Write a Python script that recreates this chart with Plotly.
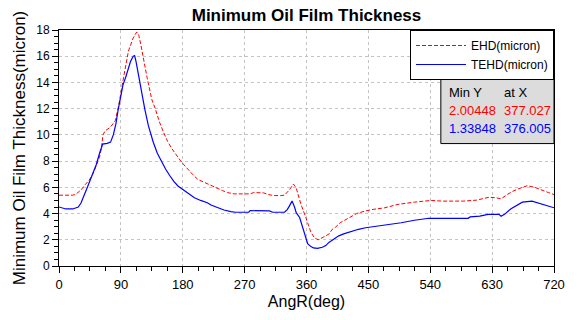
import plotly.graph_objects as go

# ---------------- data ----------------
ehd_x = [0, 10, 20, 25, 32, 38, 44, 50, 55, 59, 62, 64, 67, 75, 82, 87, 94, 101, 108, 113, 116,
         119, 128, 135, 140, 146, 152, 158, 164, 170, 176, 182, 188, 195, 202, 210, 216, 222,
         230, 238, 245, 255, 268, 278, 283, 297, 305, 312, 322, 328, 335, 341, 345, 352, 359,
         366.5, 372, 377.027, 381, 388, 393, 397.5, 402, 409, 421, 433, 445, 457, 474, 493,
         517, 541, 557, 575, 588, 607, 626, 636, 643, 652, 660, 669, 681, 692, 703, 712, 720]
ehd_y = [5.4, 5.38, 5.4, 5.5, 5.8, 6.2, 6.55, 7.1, 7.8, 8.3, 9.1, 10.0, 10.3, 10.6, 11.1, 12.3,
         14.4, 16.4, 17.4, 17.85, 17.6, 16.9, 14.4, 12.7, 12.0, 11.0, 10.2, 9.5, 8.96, 8.5,
         8.08, 7.7, 7.33, 6.95, 6.6, 6.4, 6.27, 6.1, 5.9, 5.75, 5.6, 5.5, 5.5, 5.5, 5.6, 5.58,
         5.45, 5.37, 5.37, 5.4, 5.8, 6.25, 5.95, 4.7, 3.7, 2.56, 2.12, 2.00448, 2.1, 2.3, 2.45,
         2.8, 2.95, 3.3, 3.64, 4.0, 4.19, 4.32, 4.44, 4.7, 4.87, 5.0, 4.95, 4.93, 4.95, 5.02,
         5.25, 5.2, 5.12, 5.45, 5.7, 5.9, 6.12, 6.0, 5.75, 5.6, 5.45]

tehd_x = [0, 5, 10, 20, 25, 28, 32, 37, 42, 48, 54, 59, 63.5, 70, 75, 79, 82.6, 86, 89.7, 93,
          97, 104, 108, 110, 112, 116, 120.7, 125, 130, 137, 143, 149, 155, 161, 167, 173,
          180.4, 188, 197, 206, 215.7, 221, 230, 240, 250, 256.7, 276, 278, 306, 311, 328,
          332, 335, 339, 342.6, 345, 350, 354.5, 358, 361.7, 366, 370, 376.005, 383, 388,
          392.6, 400, 407, 414, 421, 428, 435.6, 446, 457, 478.5, 497.7, 517, 538, 560, 595,
          598, 612, 624, 640, 643, 648, 657.5, 666, 674, 688, 703, 712, 720]
tehd_y = [4.5, 4.4, 4.35, 4.35, 4.45, 4.5, 4.8, 5.4, 6.1, 6.9, 7.7, 8.6, 9.3, 9.35, 9.45, 10.0,
          10.8, 11.9, 12.85, 13.8, 14.4, 15.6, 16.0, 16.05, 15.6, 14.4, 13.1, 11.9, 10.7, 9.46,
          8.6, 7.96, 7.4, 6.9, 6.45, 6.1, 5.82, 5.5, 5.2, 5.0, 4.82, 4.65, 4.45, 4.27, 4.15,
          4.1, 4.1, 4.22, 4.2, 4.1, 4.1, 4.3, 4.57, 4.95, 4.5, 4.07, 3.7, 2.9, 2.3, 1.7, 1.5,
          1.38, 1.33848, 1.43, 1.56, 1.8, 2.05, 2.3, 2.45, 2.56, 2.7, 2.8, 2.92, 3.0, 3.11, 3.3,
          3.49, 3.64, 3.64, 3.64, 3.74, 3.8, 3.94, 3.94, 3.8, 3.94, 4.37, 4.65, 4.87, 4.95, 4.7,
          4.55, 4.44]

series_names = ["EHD(micron)", "TEHD(micron)"]
x_ticks = [0, 90, 180, 270, 360, 450, 540, 630, 720]
y_ticks = [0, 2, 4, 6, 8, 10, 12, 14, 16, 18]

FONT = "Liberation Sans, Arial, sans-serif"

fig = go.Figure()
fig.add_trace(go.Scatter(x=ehd_x, y=ehd_y, mode="lines", name=series_names[0],
                         line=dict(color="#ff0000", width=1, dash="4px,2px")))
fig.add_trace(go.Scatter(x=tehd_x, y=tehd_y, mode="lines", name=series_names[1],
                         line=dict(color="#0000ff", width=1.2)))

# minimum box
i_e = min(range(len(ehd_y)), key=lambda i: ehd_y[i])
i_t = min(range(len(tehd_y)), key=lambda i: tehd_y[i])
fig.add_shape(type="rect", xref="paper", yref="paper", x0=0.7714, x1=1.0, y0=0.5188, y1=0.7908,
              fillcolor="#dcdcdc", line=dict(color="black", width=1), layer="above")
rows = [("Min Y", "at X", "black", 0.7364),
        (f"{ehd_y[i_e]:g}", f"{ehd_x[i_e]:g}", "#ff0000", 0.6569),
        (f"{tehd_y[i_t]:g}", f"{tehd_x[i_t]:g}", "#0000ff", 0.5816)]
for a, b, col, yy in rows:
    for txt, xx in ((a, 0.7833), (b, 0.8946)):
        fig.add_annotation(text=txt, xref="paper", yref="paper", x=xx, y=yy, xanchor="left",
                           yanchor="middle", showarrow=False,
                           font=dict(family=FONT, size=13, color=col))

axis_common = dict(showline=True, linecolor="black", linewidth=1, mirror=True,
                   ticks="outside", tickcolor="black", showgrid=True, gridcolor="#c4c4c4",
                   griddash="dot", gridwidth=1, zeroline=False, ticklen=6)

fig.update_xaxes(range=[0, 720], tickvals=x_ticks,
                 tickfont=dict(family=FONT, size=13, color="black"),
                 minor=dict(dtick=22.5, ticks="outside", ticklen=4, tickcolor="black", showgrid=False),
                 title=dict(text="AngR(deg)", font=dict(family=FONT, size=16, color="black"), standoff=5),
                 **axis_common)
fig.update_yaxes(range=[0, 18], tickvals=y_ticks,
                 tickfont=dict(family=FONT, size=12, color="black"),
                 minor=dict(dtick=0.5, ticks="outside", ticklen=4, tickcolor="black", showgrid=False),
                 title=dict(text="Minimum Oil Film Thickness(micron)",
                            font=dict(family=FONT, size=17, color="black"), standoff=6),
                 **axis_common)

fig.update_layout(
    width=577, height=320,
    margin=dict(l=59, r=15, t=30, b=51),
    paper_bgcolor="white", plot_bgcolor="white",
    title=dict(text="<b>Minimum Oil Film Thickness</b>", x=0.5, xref="paper", y=0.953,
               yanchor="middle", font=dict(family=FONT, size=17, color="black")),
    legend=dict(x=1, xanchor="right", y=1, yanchor="top", bgcolor="white",
                bordercolor="black", borderwidth=1, itemwidth=50,
                font=dict(family=FONT, size=12, color="black"), tracegroupgap=0),
    showlegend=True,
)

fig.write_html("out.html")
